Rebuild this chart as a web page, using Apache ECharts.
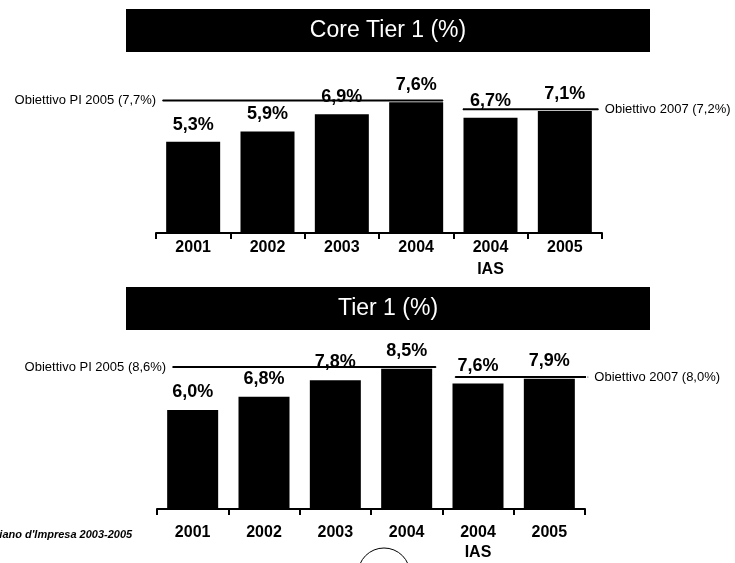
<!DOCTYPE html>
<html>
<head>
<meta charset="utf-8">
<script src="https://cdn.jsdelivr.net/npm/echarts@6/dist/echarts.min.js"></script>
<style>
  html, body { margin: 0; padding: 0; background: #fff; }
  #chart { width: 735px; height: 563px; }
</style>
</head>
<body>
<div id="chart"></div>
<script>
// dati
const categories = ['2001', '2002', '2003', '2004', '2004\nIAS', '2005'];
const coreTier1 = [5.3, 5.9, 6.9, 7.6, 6.7, 7.1];
const tier1 = [6.0, 6.8, 7.8, 8.5, 7.6, 7.9];
const coreTargets = [7.7, 7.2];
const coreTargetLabels = ['Obiettivo PI 2005 (7,7%)', 'Obiettivo 2007 (7,2%)'];
const tierTargets = [8.6, 8.0];
const tierTargetLabels = ['Obiettivo PI 2005 (8,6%)', 'Obiettivo 2007 (8,0%)'];
const titles = ['Core Tier 1 (%)', 'Tier 1 (%)'];
const footnote = "Piano d'Impresa 2003-2005";

const FONT = '"Liberation Sans", Arial, Helvetica, sans-serif';

// estensione delle linee obiettivo, in unità di categoria (0..6)
const coreSpans = [[0.09, 3.86], [4.13, 5.95]];
const tierSpans = [[0.22, 3.91], [4.18, 6.04]];

function pct(v) {
  return v.toFixed(1).replace('.', ',') + '%';
}

function barSeries(data, idx, width, dist) {
  return {
    type: 'bar',
    xAxisIndex: idx,
    yAxisIndex: idx,
    data: data,
    barWidth: width,
    itemStyle: { color: '#000' },
    label: {
      show: true,
      position: 'top',
      distance: dist,
      color: '#000',
      fontFamily: FONT,
      fontWeight: 'bold',
      fontSize: 18,
      formatter: (p) => pct(p.value),
    },
    z: 2,
  };
}

function targetSeries(value, span, text, idx, side) {
  const first = { value: [span[0], value] };
  const last = { value: [span[1], value] };
  const lbl = {
    show: true,
    position: side,
    distance: 6,
    color: '#000',
    fontFamily: FONT,
    fontSize: 13,
    formatter: text,
  };
  if (side === 'left') first.label = lbl;
  else last.label = lbl;
  return {
    type: 'line',
    xAxisIndex: idx + 2,
    yAxisIndex: idx,
    data: [first, last],
    symbol: 'circle',
    symbolSize: 1,
    itemStyle: { color: '#000' },
    lineStyle: { color: '#000', width: 2 },
    label: { show: false },
    clip: false,
    silent: true,
    z: 3,
  };
}

function catAxis(idx, margin, lh) {
  return {
    type: 'category',
    gridIndex: idx,
    data: categories,
    axisLine: { show: true, lineStyle: { color: '#000', width: 2 } },
    axisTick: { show: true, inside: false, length: 6, lineStyle: { color: '#000', width: 2 } },
    axisLabel: {
      color: '#000',
      fontFamily: FONT,
      fontWeight: 'bold',
      fontSize: 16,
      lineHeight: lh,
      margin: margin,
      interval: 0,
    },
  };
}

function titleBox(y, h, text, size) {
  return [
    { type: 'rect', shape: { x: 126, y: y, width: 524, height: h }, style: { fill: '#000' } },
    {
      type: 'text',
      x: 388,
      y: y + h / 2,
      style: {
        text: text,
        fill: '#fff',
        font: size + 'px ' + FONT,
        align: 'center',
        verticalAlign: 'middle',
      },
    },
  ];
}

const chart = echarts.init(document.getElementById('chart'));
chart.setOption({
  backgroundColor: '#fff',
  animation: false,
  grid: [
    { left: 156, top: 61, width: 446, height: 172 },
    { left: 157, top: 344, width: 428, height: 167 },
  ],
  xAxis: [
    catAxis(0, 4, 22),
    catAxis(1, 14, 20),
    { type: 'value', gridIndex: 0, min: 0, max: 6, show: false },
    { type: 'value', gridIndex: 1, min: 0, max: 6, show: false },
  ],
  yAxis: [
    { type: 'value', gridIndex: 0, min: 0, max: 10, show: false },
    { type: 'value', gridIndex: 1, min: 0, max: 10, show: false },
  ],
  series: [
    barSeries(coreTier1, 0, 54, 8),
    barSeries(tier1, 1, 51, 9),
    targetSeries(coreTargets[0], coreSpans[0], coreTargetLabels[0], 0, 'left'),
    targetSeries(coreTargets[1], coreSpans[1], coreTargetLabels[1], 0, 'right'),
    targetSeries(tierTargets[0], tierSpans[0], tierTargetLabels[0], 1, 'left'),
    targetSeries(tierTargets[1], tierSpans[1], tierTargetLabels[1], 1, 'right'),
  ],
  graphic: [
    ...titleBox(9, 43, titles[0], 23),
    ...titleBox(287, 43, titles[1], 23),
    {
      type: 'text',
      x: -8,
      y: 535,
      style: {
        text: footnote,
        fill: '#000',
        font: 'italic bold 11px ' + FONT,
        verticalAlign: 'middle',
      },
    },
    {
      type: 'circle',
      shape: { cx: 384, cy: 574, r: 26 },
      style: { fill: 'none', stroke: '#000', lineWidth: 1 },
    },
  ],
});
</script>
</body>
</html>
